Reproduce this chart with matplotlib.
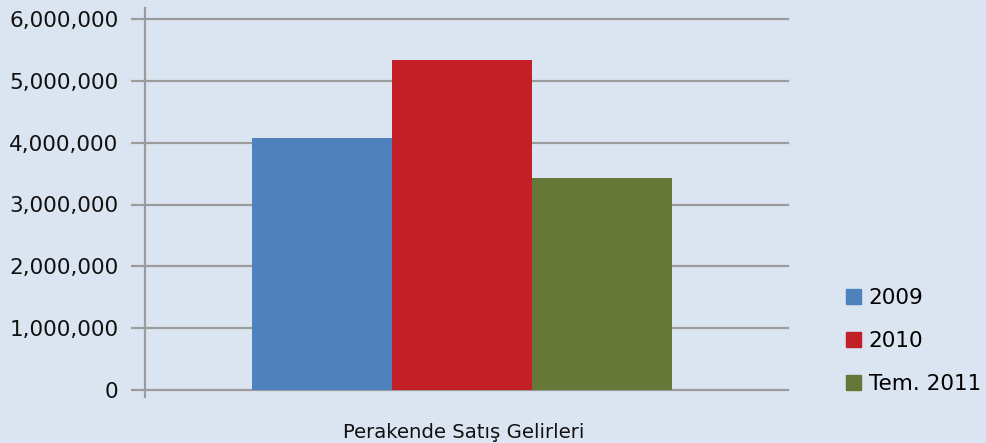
import matplotlib
matplotlib.use("Agg")
import matplotlib.pyplot as plt
from matplotlib.ticker import FuncFormatter
from matplotlib.lines import Line2D

category = "Perakende Satış Gelirleri"
series = ["2009", "2010", "Tem. 2011"]
values = [4080000, 5340000, 3430000]
colors = ["#4f81bd", "#c21f26", "#667837"]

BG = "#dbe5f1"
GRID = "#9c9c9c"

fig = plt.figure(figsize=(9.86, 4.43), dpi=100, facecolor=BG)
ax = fig.add_axes([145 / 986, 1 - 390 / 443, (788 - 145) / 986, (390 - 19) / 443])
ax.set_facecolor(BG)

# bars sit side by side in one category group, x in fractions of the axes width
width = 140 / 643
left0 = (252 - 145) / 643
for i, (name, v, c) in enumerate(zip(series, values, colors)):
    ax.bar(left0 + i * width, v, width=width, align="edge", color=c, label=name,
           zorder=3)

ax.set_xlim(0, 1)
ax.set_ylim(0, 6000000)
ax.set_yticks(range(0, 6000001, 1000000))
ax.yaxis.set_major_formatter(FuncFormatter(lambda v, p: f"{int(v):,}"))
ax.set_xticks([])
ax.grid(axis="y", color=GRID, linewidth=1.6, zorder=1)
for gl in ax.get_ygridlines():
    gl.set_clip_on(False)
for s in ax.spines.values():
    s.set_visible(False)
ax.tick_params(axis="y", length=10, width=1.6, color=GRID, labelsize=15.5,
               pad=9, labelcolor="#111111")

# value axis line runs a bit past the plot area, as in the original
ax.add_line(Line2D([0, 0], [-0.02, 1.03], transform=ax.transAxes, color=GRID,
                   linewidth=1.6, clip_on=False, zorder=4))

ax.text(0.495, -0.115, category, transform=ax.transAxes, ha="center", va="center",
        fontsize=14.2, color="#111111")

handles = [plt.Rectangle((0, 0), 1, 1, color=c) for c in colors]
fig.legend(handles, series, loc="upper left", bbox_to_anchor=(846 / 986, 1 - 288 / 443),
           frameon=False, fontsize=15.5, handlelength=0.7, handleheight=0.7,
           handletextpad=0.35, labelspacing=1.07, borderpad=0, borderaxespad=0)

fig.savefig("out.png", dpi=100, facecolor=BG)
